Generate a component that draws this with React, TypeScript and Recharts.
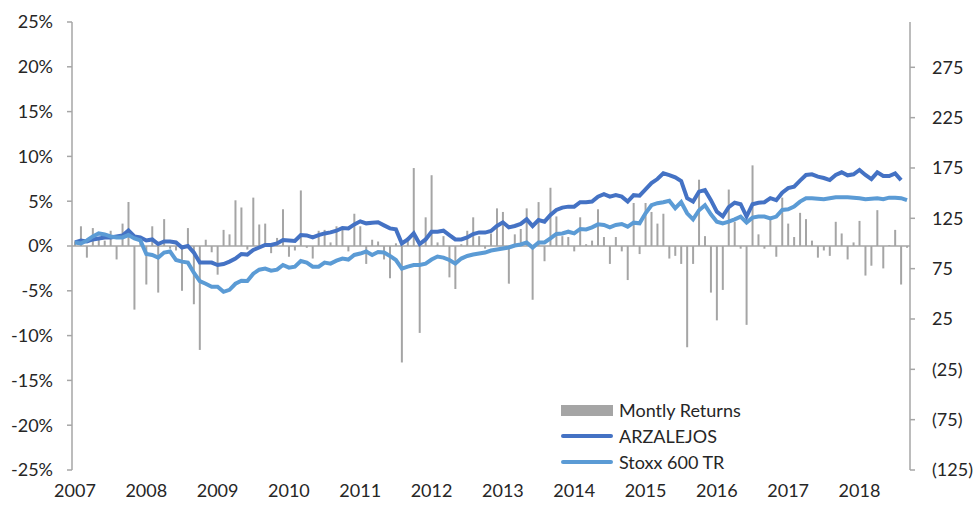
import React from 'react';
import {
  ComposedChart,
  Bar,
  Line,
  XAxis,
  YAxis,
  ReferenceLine,
} from 'recharts';

// Monthly returns in %, Jan 2007 .. Sep 2018
const monthlyReturns = [
  0.5, 2.2, -1.3, 2.0, 0.8, 0.6, 1.7, -1.5, 2.5, 4.9, -7.1, 0.3,
  -4.3, 2.2, -5.2, 3.0, -0.3, -0.5, -5.0, 2.0, -6.5, -11.6, 0.7, -0.7,
  -3.2, 1.8, 1.3, 5.1, 4.3, -0.4, 5.4, 2.4, 2.5, -0.8, 0.9, 4.1,
  -1.2, -0.5, 6.2, -0.2, -1.4, 1.7, 1.8, 0.4, 2.2, 1.9, -0.6, 3.6,
  2.2, -2.0, 0.7, 0.5, -1.5, -3.6, 0.3, -13.0, 1.0, 8.7, -9.7, 3.2,
  7.9, 0.4, 1.1, -3.5, -4.8, 0.2, 1.7, 3.2, 1.1, -0.3, 1.4, 4.2,
  3.8, -4.2, 1.3, 1.9, 4.2, -6.0, 4.9, -1.7, 6.5, 3.3, 1.1, 1.0,
  -0.6, 3.2, 0.2, 0.6, 4.1, 1.0, -2.0, 1.0, -0.6, -3.8, 4.8, -0.9,
  4.8, 3.8, 2.5, 3.6, -1.4, -1.1, -2.0, -11.3, -2.0, 7.4, 1.1, -5.2,
  -8.3, -4.9, 6.3, 2.7, -0.3, -8.8, 9.0, 1.3, -0.3, 2.9, -1.2, 5.4,
  2.5, 1.0, 3.7, 3.0, 0.6, -1.3, -0.5, -1.1, 2.7, 1.4, -1.5, 0.4,
  2.8, -3.3, -2.2, 4.0, -2.5, 0.1, 1.8, -4.3, -0.2,
];

// ARZALEJOS index (base 100)
const arzalejos: (number | null)[] = [
  101, 103, 102, 104, 105, 106, 106, 107, 108, 113, 107, 106,
  103, 104, 99.5, 102, 102, 101, 96, 97.5, 91, 81, 81, 81,
  78.6, 79.6, 82, 85, 89.6, 89, 93.5, 96, 98.5, 98.5, 100, 103.5,
  103, 102.5, 108.4, 108, 106, 108.4, 110, 111, 112.7, 115.4, 115, 119,
  122, 120, 120.7, 121, 118, 115, 114, 100, 104, 110, 99.5, 104,
  111.7, 111.7, 112.7, 108.4, 104, 104, 106, 109.4, 111, 110.8, 112.4, 117.4,
  121, 116, 117.4, 119.4, 124, 117.4, 123.3, 121.7, 128.3, 133.3, 135.6, 136.6,
  136.6, 141, 141, 141.6, 146.5, 149, 146.5, 148, 146.5, 141.6, 148, 147.5,
  153.8, 160, 164, 169.7, 168, 165.7, 162, 145, 141.6, 151.5, 153, 143,
  131.6, 127, 136, 140.5, 139, 126.8, 139, 140.5, 141, 145, 143, 150.5,
  155, 156.5, 162.4, 168, 168.7, 166.4, 165, 163, 168, 170.7, 167.7, 168.7,
  173, 168, 164, 170.7, 167, 167, 169.7, 163, null,
];

// Stoxx 600 TR index (base 100)
const stoxx600 = [
  101, 100, 103, 107, 110, 109, 107, 106, 106, 108.4, 105, 103,
  89.6, 88.6, 86, 91, 92, 83.6, 82, 81, 71, 62.7, 60, 57,
  57, 52, 54, 60, 63, 62.7, 70, 74, 75, 73, 74, 78.6,
  76, 77, 82.6, 81, 77, 77, 81, 80, 83, 85, 84, 88.6,
  90, 92, 88.6, 91.6, 91, 87.6, 83.6, 75, 77, 78.6, 78.6, 80,
  84, 87, 86, 83.6, 80, 85, 87.6, 89, 90, 91, 93, 94,
  95, 96, 98, 99, 101, 96, 101, 101, 105, 109.4, 110, 111.7,
  110, 114.4, 114, 116, 119, 118.4, 116, 118.4, 119.4, 116.7, 120.7, 120,
  130, 138, 140, 141, 142.5, 135, 141, 130, 124, 133, 138, 129,
  121.7, 120, 121.7, 124, 126.6, 120.7, 125.7, 126.7, 126.7, 125, 126.7, 133.3,
  134, 136.6, 141.6, 145, 145, 144.5, 144, 145, 146, 146, 146, 145.5,
  145, 144, 144.5, 145, 144, 145.5, 145.5, 145, 143,
];

const leftTicks = [-25, -20, -15, -10, -5, 0, 5, 10, 15, 20, 25];
const rightTicks = [-125, -75, -25, 25, 75, 125, 175, 225, 275];

const months = monthlyReturns.map(
  (_, i) => `${2007 + Math.floor(i / 12)}-${String((i % 12) + 1).padStart(2, '0')}`
);

const data = months.map((m, i) => ({
  month: m,
  returns: monthlyReturns[i],
  arzalejos: arzalejos[i],
  stoxx: stoxx600[i],
}));

const FONT = 'Lato, "Open Sans", sans-serif';
const AXIS = '#a6a6a6';
const TEXT = '#262626';

const legendItems = [
  { label: 'Montly Returns', color: '#a5a5a5', kind: 'bar' },
  { label: 'ARZALEJOS', color: '#4472c4', kind: 'line' },
  { label: 'Stoxx 600 TR', color: '#5b9bd5', kind: 'line' },
];

// legend sits over the plot, bottom right
const ChartLegend = () => (
  <div
    style={{
      position: 'absolute',
      left: 561,
      top: 397,
      fontFamily: FONT,
      fontSize: 18,
      color: TEXT,
    }}
  >
    {legendItems.map((item) => (
      <div key={item.label} style={{ display: 'flex', alignItems: 'center', height: 26 }}>
        <div
          style={{
            width: 52,
            height: item.kind === 'bar' ? 11 : 4,
            borderRadius: item.kind === 'bar' ? 0 : 2,
            backgroundColor: item.color,
            marginRight: 6,
          }}
        />
        <span>{item.label}</span>
      </div>
    ))}
  </div>
);

export default function App() {
  return (
    <div style={{ position: 'absolute', left: 0, top: 0, width: 980, height: 505, background: '#fff' }}>
      <ComposedChart
        width={980}
        height={505}
        data={data}
        margin={{ top: 22, right: 0, bottom: 0, left: 0 }}
        barCategoryGap={0}
      >
        <XAxis
          dataKey="month"
          interval={11}
          axisLine={false}
          tickLine={false}
          height={35}
          tickMargin={8}
          tickFormatter={(v: string) => v.slice(0, 4)}
          tick={{ fontSize: 18, fill: TEXT, fontFamily: FONT }}
        />
        <YAxis
          yAxisId="left"
          domain={[-25, 25]}
          ticks={leftTicks}
          width={72}
          tickSize={5}
          tickMargin={14}
          axisLine={{ stroke: AXIS, strokeWidth: 1.5 }}
          tickLine={{ stroke: AXIS, strokeWidth: 1.5 }}
          tickFormatter={(v: number) => `${v}%`}
          tick={{ fontSize: 18, fill: TEXT, fontFamily: FONT }}
        />
        <YAxis
          yAxisId="right"
          orientation="right"
          domain={[-125, 320]}
          ticks={rightTicks}
          width={70}
          tickSize={5}
          tickMargin={17}
          axisLine={{ stroke: AXIS, strokeWidth: 1.5 }}
          tickLine={{ stroke: AXIS, strokeWidth: 1.5 }}
          tickFormatter={(v: number) => (v < 0 ? `(${-v})` : `${v}`)}
          tick={{ fontSize: 18, fill: TEXT, fontFamily: FONT, textAnchor: 'start' }}
        />
        <ReferenceLine yAxisId="left" y={0} stroke={AXIS} strokeWidth={1.5} />
        <Bar
          yAxisId="left"
          dataKey="returns"
          name="Montly Returns"
          fill="#a5a5a5"
          barSize={2}
          isAnimationActive={false}
        />
        <Line
          yAxisId="right"
          type="linear"
          dataKey="arzalejos"
          name="ARZALEJOS"
          stroke="#4472c4"
          strokeWidth={4}
          dot={false}
          isAnimationActive={false}
        />
        <Line
          yAxisId="right"
          type="linear"
          dataKey="stoxx"
          name="Stoxx 600 TR"
          stroke="#5b9bd5"
          strokeWidth={4}
          dot={false}
          isAnimationActive={false}
        />
      </ComposedChart>
      <ChartLegend />
    </div>
  );
}
